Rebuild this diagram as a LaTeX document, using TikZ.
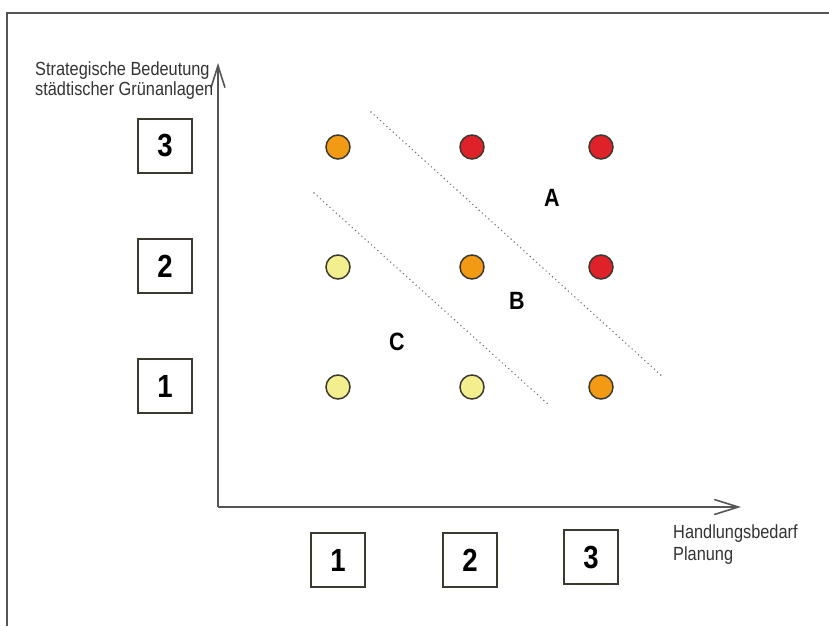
\documentclass[tikz,border=0pt]{standalone}
\usepackage{fontspec}
\usetikzlibrary{arrows.meta}
\newfontfamily\narrowsans[FakeStretch=0.86]{Liberation Sans}
\definecolor{axisgray}{HTML}{555555}
\definecolor{rimdark}{HTML}{3C3A30}
\definecolor{dotred}{HTML}{DF2129}
\definecolor{dotorange}{HTML}{F29A14}
\definecolor{dotyellow}{HTML}{F3EE8E}
\tikzset{
  frameline/.style={draw=axisgray, line width=1.6pt},
  axisline/.style={draw=axisgray, line width=1.8pt},
  gradebox/.style={draw=rimdark, line width=1.4pt, fill=white, minimum size=54pt, inner sep=0pt,
    font=\narrowsans\bfseries\fontsize{32}{32}\selectfont},
  dot/.style={circle, draw=rimdark, line width=1.5pt, minimum size=24pt, inner sep=0pt},
  reddot/.style={dot, fill=dotred},
  orangedot/.style={dot, fill=dotorange},
  yellowdot/.style={dot, fill=dotyellow},
  zone/.style={font=\narrowsans\bfseries\fontsize{25}{25}\selectfont, inner sep=0pt},
  axislabel/.style={font=\narrowsans\fontsize{19}{20}\selectfont, text=black!80, align=left, inner sep=0pt},
  border/.style={draw=gray!90!black, line width=1.6pt, line cap=round, dash pattern=on 0pt off 4.3pt},
}
\begin{document}
\begin{tikzpicture}[x=1pt, y=-1pt]
  \useasboundingbox (0,0) rectangle (829,626);

  % outer frame (top and left edges)
  \coordinate (fTL) at (7,13);
  \coordinate (fTR) at (829,13);
  \coordinate (fBL) at (7,626);
  \draw[frameline] (fTR) -- (fTL) -- (fBL);

  % axes
  \coordinate (origin) at (218,507);
  \coordinate (ytip) at (218,63);
  \coordinate (xtip) at (741,507);
  \draw[axisline, -{Straight Barb[length=22pt, width=14pt, line width=1.6pt]}] (origin) -- (ytip);
  \draw[axisline, -{Straight Barb[length=24pt, width=15pt, line width=1.6pt]}] (origin) -- (xtip);

  % axis labels
  \node[axislabel, anchor=west] (ylab) at (35,81) {Strategische Bedeutung\\städtischer Grünanlagen};
  \node[axislabel, anchor=west, font=\narrowsans\fontsize{19}{22}\selectfont] (xlab) at (673,545) {Handlungsbedarf\\Planung};

  % grade boxes on the vertical axis
  \node[gradebox] (v3) at (165,146) {3};
  \node[gradebox] (v2) at (165,266) {2};
  \node[gradebox] (v1) at (165,386) {1};

  % grade boxes on the horizontal axis
  \node[gradebox] (h1) at (338,560) {1};
  \node[gradebox] (h2) at (470,560) {2};
  \node[gradebox] (h3) at (591,557) {3};

  % rating matrix
  \node[orangedot] (c13) at (338,147) {};
  \node[reddot]    (c23) at (472,147) {};
  \node[reddot]    (c33) at (601,147) {};
  \node[yellowdot] (c12) at (338,267) {};
  \node[orangedot] (c22) at (472,267) {};
  \node[reddot]    (c32) at (601,267) {};
  \node[yellowdot] (c11) at (338,387) {};
  \node[yellowdot] (c21) at (472,387) {};
  \node[orangedot] (c31) at (601,387) {};

  % zone boundaries
  \coordinate (ab1) at (371,112);
  \coordinate (ab2) at (663,377);
  \coordinate (bc1) at (314,193);
  \coordinate (bc2) at (549,405);
  \draw[border] (ab1) -- (ab2);
  \draw[border] (bc1) -- (bc2);

  % zone labels
  \node[zone] (za) at (552,198) {A};
  \node[zone] (zb) at (517,301) {B};
  \node[zone] (zc) at (397,342) {C};
\end{tikzpicture}
\end{document}
